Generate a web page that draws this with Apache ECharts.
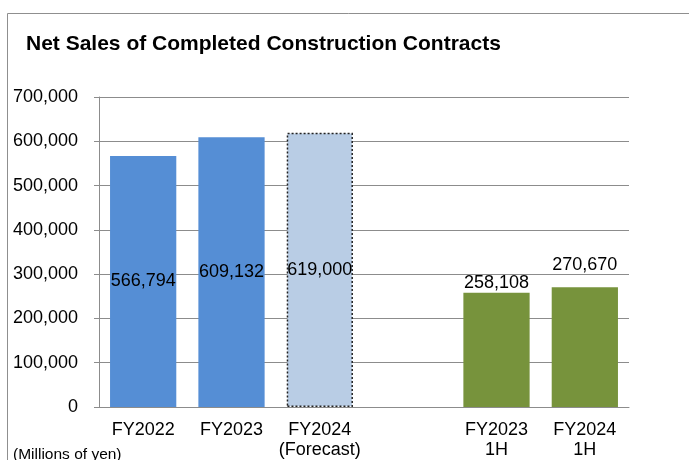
<!DOCTYPE html>
<html>
<head>
<meta charset="utf-8">
<script src="https://cdn.jsdelivr.net/npm/echarts@6/dist/echarts.min.js"></script>
<style>
  html, body { margin: 0; padding: 0; background: #fff; }
  #chart { width: 689px; height: 460px; }
</style>
</head>
<body>
<div id="chart"></div>
<script>
const categories = ['FY2022', 'FY2023', 'FY2024\n(Forecast)', '', 'FY2023\n1H', 'FY2024\n1H'];
const salesValues = [566794, 609132, 619000, null, 258108, 270670];
const yTicks = [0, 100000, 200000, 300000, 400000, 500000, 600000, 700000];

// per-bar looks
const barColors = ['#558ED5', '#558ED5', '#B9CDE5', '#558ED5', '#77933C', '#77933C'];
const labelInside = [true, true, true, false, false, false];
const labelGap = [0, 0, 0, 0, 1, 13];

const fmt = v => Number(v).toLocaleString('en-US');

const seriesData = salesValues.map((v, i) => {
  const item = {
    value: v,
    itemStyle: { color: barColors[i] },
    label: labelInside[i] ? { position: 'inside' } : { position: 'top', distance: labelGap[i] }
  };
  if (i === 2) {
    item.itemStyle.borderColor = '#222';
    item.itemStyle.borderWidth = 1.5;
    item.itemStyle.borderType = [2, 2];
  }
  return item;
});

const chart = echarts.init(document.getElementById('chart'));
chart.setOption({
  animation: false,
  textStyle: { fontFamily: 'Liberation Sans, Arial, sans-serif' },
  graphic: [
    {
      type: 'rect',
      shape: { x: 7.5, y: 13.5, width: 700, height: 460 },
      style: { fill: 'none', stroke: '#8f8f8f', lineWidth: 1 },
      silent: true
    },
    {
      type: 'text',
      left: 26, top: 34,
      style: {
        text: 'Net Sales of Completed Construction Contracts',
        font: 'bold 21px "Liberation Sans", Arial, sans-serif',
        fill: '#000'
      }
    },
    {
      type: 'text',
      left: 13, top: 447,
      style: {
        text: '(Millions of yen)',
        font: '15.5px "Liberation Sans", Arial, sans-serif',
        fill: '#000'
      }
    }
  ],
  grid: { left: 99, right: 60, top: 97, bottom: 51 },
  xAxis: {
    type: 'category',
    data: categories,
    axisLine: { lineStyle: { color: '#8c8c8c' } },
    axisTick: { length: 5, lineStyle: { color: '#8c8c8c' } },
    axisLabel: {
      color: '#000', fontSize: 18, margin: 13, lineHeight: 20,
      interval: 0
    }
  },
  yAxis: {
    type: 'value',
    min: yTicks[0],
    max: yTicks[yTicks.length - 1],
    interval: 100000,
    axisLine: { show: true, lineStyle: { color: '#8c8c8c' } },
    axisTick: { show: true, length: 5, lineStyle: { color: '#8c8c8c' } },
    splitLine: { lineStyle: { color: '#8c8c8c' } },
    axisLabel: { color: '#000', fontSize: 18, margin: 21, formatter: fmt }
  },
  series: [{
    type: 'bar',
    barWidth: '75%',
    data: seriesData,
    label: {
      show: true,
      color: '#000',
      fontSize: 18,
      formatter: p => fmt(p.value)
    }
  }]
});
</script>
</body>
</html>
